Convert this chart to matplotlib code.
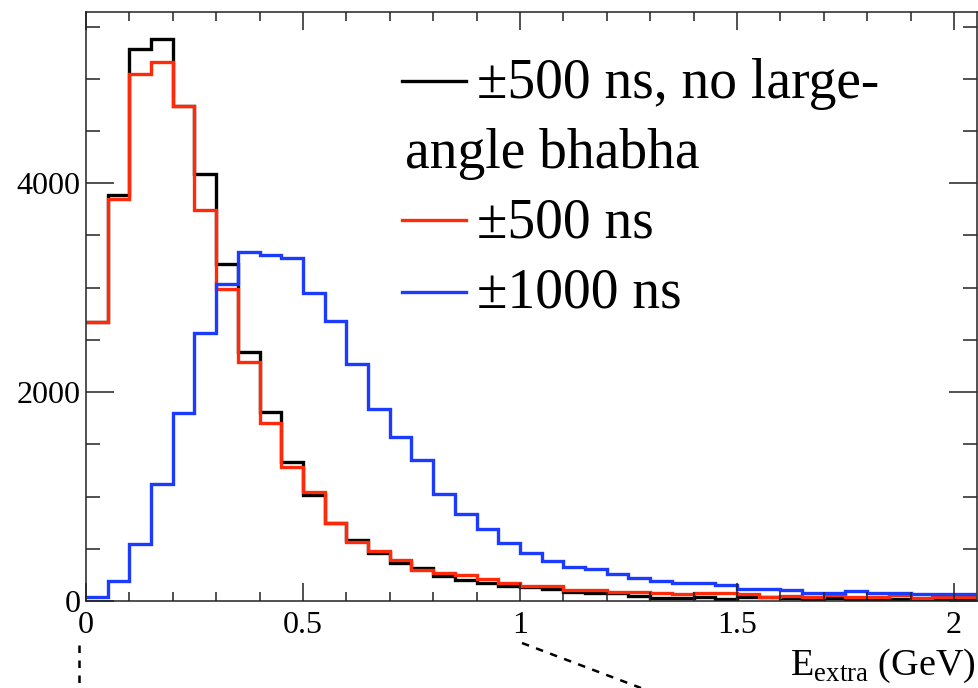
import matplotlib
matplotlib.use("Agg")
import matplotlib.pyplot as plt
import numpy as np
from matplotlib.lines import Line2D
from matplotlib.ticker import MultipleLocator

plt.rcParams["font.family"] = "Liberation Serif"
plt.rcParams["mathtext.fontset"] = "custom"
plt.rcParams["mathtext.rm"] = "Liberation Serif"

# E_extra histograms, 0.05 GeV bins from 0 to 2.05
bin_width = 0.05
n_bins = 41

no_bhabha_500 = [2670, 3885, 5289, 5378, 4740, 4086, 3225, 2386, 1812, 1327,
                 1011, 743, 584, 456, 366, 319, 239, 201, 169, 144,
                 137, 112, 89, 73, 73, 48, 26, 26, 35, 20,
                 35, 35, 25, 20, 25, 20, 15, 20, 15, 20, 15]
window_500 = [2667, 3847, 5050, 5158, 4740, 3742, 2992, 2290, 1706, 1285,
              1040, 743, 565, 482, 392, 297, 271, 249, 207, 175,
              144, 144, 105, 105, 89, 89, 80, 67, 73, 80,
              67, 41, 50, 41, 57, 41, 41, 57, 26, 35, 35]
window_1000 = [41, 195, 542, 1120, 1796, 2568, 3033, 3343, 3311, 3289,
               2950, 2680, 2265, 1837, 1566, 1349, 1021, 829, 686, 558,
               456, 383, 328, 303, 258, 223, 191, 169, 169, 153,
               112, 112, 105, 80, 80, 96, 73, 80, 67, 67, 67]

labels = ["\u00b1500 ns, no large-", "\u00b1500 ns", "\u00b11000 ns"]
colors = ["black", "#ff2a0a", "#1b3bff"]

edges = np.arange(n_bins + 1) * bin_width

W, H = 979, 688
fig = plt.figure(figsize=(W / 100, H / 100), dpi=100)
ax = fig.add_axes([86 / W, 1 - 601 / H, (977 - 86) / W, (601 - 12) / H])

for vals, c in zip([no_bhabha_500, window_500, window_1000], colors):
    ax.stairs(vals, edges, baseline=None, color=c, lw=2.4)

ax.set_xlim(0, 2.053)
ax.set_ylim(0, 5640)

ax.set_xticks([0, 0.5, 1, 1.5, 2], labels=["0", "0.5", "1", "1.5", "2"])
ax.xaxis.set_minor_locator(MultipleLocator(0.1))
ax.set_yticks([0, 2000, 4000], labels=["0", "2000", "4000"])
ax.yaxis.set_minor_locator(MultipleLocator(500))

for s in ax.spines.values():
    s.set_color("#222222")
    s.set_linewidth(1.1)
ax.tick_params(axis="both", which="both", direction="in", top=True,
               right=True, color="#222222", width=1.1, labelsize=23)
ax.tick_params(axis="x", which="major", length=13, pad=7)
ax.tick_params(axis="x", which="minor", length=6.5)
ax.tick_params(axis="y", which="major", length=20, pad=4)
ax.tick_params(axis="y", which="minor", length=10)

# legend drawn by hand (second line of first entry wraps under the key)
def px(x, y):
    return x / W, 1 - y / H

for c, ly in zip(colors, [81, 220, 292]):
    fig.add_artist(Line2D([402 / W, 466 / W], [1 - ly / H] * 2,
                          color=c, lw=2.4))
fs = 40
fig.text(*px(477, 98), labels[0], fontsize=fs, va="baseline")
fig.text(*px(405, 168), "angle bhabha", fontsize=fs, va="baseline")
fig.text(*px(477, 237), labels[1], fontsize=fs, va="baseline")
fig.text(*px(477, 308), labels[2], fontsize=fs, va="baseline")

fig.text(*px(976, 675), r"E$_{\mathrm{extra}}$ (GeV)", fontsize=27.5,
         ha="right", va="baseline")

# dashed callout lines below the frame
fig.add_artist(Line2D([79 / W, 79 / W], [1 - 645 / H, 0], color="black",
                      lw=1.8, ls=(0, (3, 3))))
fig.add_artist(Line2D([522 / W, 641 / W], [1 - 643 / H, 1 - 688 / H],
                      color="black", lw=1.8, ls=(0, (3, 3))))

fig.savefig("out.png", dpi=100)
